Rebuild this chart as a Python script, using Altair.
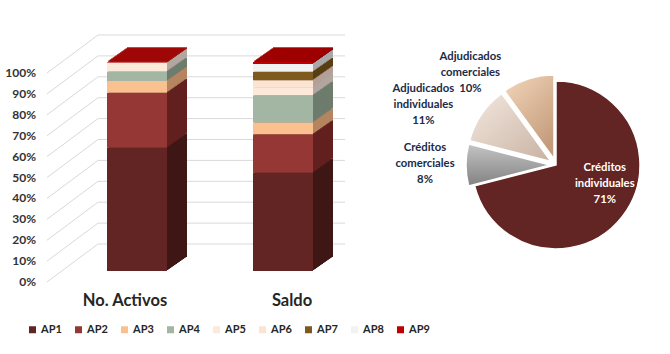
import altair as alt
import pandas as pd

# ---------------- data ----------------
categories = ["No. Activos", "Saldo"]
series = ["AP1", "AP2", "AP3", "AP4", "AP5", "AP6", "AP7", "AP8", "AP9"]
no_activos = [59.0, 26.3, 5.6, 4.5, 4.1, 0.1, 0.1, 0.1, 0.2]
saldo = [47.0, 18.4, 5.6, 13.1, 3.6, 3.6, 4.0, 3.7, 1.0]
y_ticks = [0, 10, 20, 30, 40, 50, 60, 70, 80, 90, 100]

pie_names = ["Créditos individuales", "Créditos comerciales",
             "Adjudicados individuales", "Adjudicados comerciales"]
pie_values = [71, 8, 11, 10]

# ---------------- styles ----------------
front_colors = ["#632523", "#953735", "#FAC090", "#A3B5A3", "#FDE9D9",
                "#FCE4D2", "#7F5A1F", "#F2F2F2", "#C00000"]
side_colors = ["#3F1715", "#62201F", "#B58560", "#6E7C6E", "#B3A69E",
               "#B3A098", "#583E12", "#A8A8A8", "#8A0000"]


def grad(c1, c2, x2=0, y2=1):
    return {"gradient": "linear", "x1": 0, "y1": 0, "x2": x2, "y2": y2,
            "stops": [{"offset": 0, "color": c1}, {"offset": 1, "color": c2}]}


pie_fills = [
    "#632523",
    grad("#C4C4C4", "#828282"),
    grad("#F4E8DF", "#C7B2A3", 1, 1),
    grad("#F3D6BA", "#C49C7C", 0.6, 1),
]
FONT = "Lato"
TXT = "#262626"
NAVY = "#1B2A47"

rows = []
for cat, vals in zip(categories, [no_activos, saldo]):
    for i, (s, v) in enumerate(zip(series, vals)):
        rows.append({"cat": cat, "ap": s, "value": v, "idx": i, "side": side_colors[i]})
bar_df = pd.DataFrame(rows)
grid_df = pd.DataFrame({"t": y_ticks})
cat_df = pd.DataFrame({"cat": categories})
pie_df = pd.DataFrame({
    "name": pie_names,
    "value": pie_values,
    "idx": list(range(len(pie_names))),
    "label": [n.replace(" ", "\n") + "\n" + f"{v}%" for n, v in zip(pie_names, pie_values)],
})

W, H = 326, 209
yscale = alt.Scale(domain=[0, 100])
xscale = alt.Scale(domain=categories, paddingInner=0, paddingOuter=0.1164)

# gridlines: back wall and floor diagonals
back_grid = alt.Chart(grid_df).mark_rule(color="#D9D9D9", strokeWidth=1, yOffset=-27).encode(
    y=alt.Y("t:Q", scale=yscale, axis=None),
    x=alt.value(51), x2=alt.value(298))
floor_grid = alt.Chart(grid_df).mark_rule(color="#D9D9D9", strokeWidth=1, yOffset=11, y2Offset=-27).encode(
    y=alt.Y("t:Q", scale=yscale, axis=None), y2="t:Q",
    x=alt.value(0), x2=alt.value(51))
y_labels = alt.Chart(grid_df).transform_calculate(lab="datum.t + '%'").mark_text(
    align="right", baseline="middle", dy=11, font=FONT, fontSize=12, fontWeight="bold",
    color="#333333").encode(
    y=alt.Y("t:Q", scale=yscale, axis=None), x=alt.value(-11), text="lab:N")

layers = [back_grid, floor_grid, y_labels]

for cat, shift in zip(categories, [-12, 9]):
    layers.append(alt.Chart(cat_df).transform_filter(alt.datum.cat == cat).mark_text(
        align="center", baseline="middle", dx=shift, font=FONT, fontSize=16.5, fontWeight="bold",
        color=TXT).encode(
        x=alt.X("cat:N", scale=xscale, axis=None), y=alt.value(H + 30), text="cat:N"))

N = 14
for k in range(N, 0, -1):
    dx, dy = 20.0 * k / N, -14.0 * k / N
    layers.append(alt.Chart(bar_df).mark_bar(size=60, xOffset=dx, x2Offset=dx, yOffset=dy, y2Offset=dy).encode(
        x=alt.X("cat:N", scale=xscale, axis=None),
        y=alt.Y("value:Q", stack="zero", scale=yscale, axis=None),
        color=alt.Color("side:N", scale=None),
        order=alt.Order("idx:Q")))
for k in range(N, 0, -1):
    dx, dy = 20.0 * k / N, -14.0 * k / N
    layers.append(alt.Chart(bar_df).transform_aggregate(total="sum(value)", groupby=["cat"]).mark_tick(
        size=60, thickness=1.8, color="#A00000", orient="horizontal", xOffset=dx, yOffset=dy).encode(
        x=alt.X("cat:N", scale=xscale, axis=None),
        y=alt.Y("total:Q", scale=yscale, axis=None)))

front = alt.Chart(bar_df).mark_bar(size=60).encode(
    x=alt.X("cat:N", scale=xscale, axis=None),
    y=alt.Y("value:Q", stack="zero", scale=yscale, axis=None),
    color=alt.Color("ap:N", scale=alt.Scale(domain=series, range=front_colors),
                    legend=alt.Legend(orient="none", legendX=-20, legendY=262, direction="horizontal",
                                      columns=9, title=None, symbolType="square", symbolSize=49,
                                      symbolStrokeWidth=0, labelFont=FONT, labelFontSize=11,
                                      labelFontWeight="bold", labelColor=TXT, columnPadding=11,
                                      labelOffset=3)),
    order=alt.Order("idx:Q"))
layers.append(front)

# pie
CX, CY = 509, 103
explode = [(0, 0), (-6, 0), (-5, -3.5), (-2, -6)]
for name, fill, (ex, ey) in zip(pie_names, pie_fills, explode):
    layers.append(alt.Chart(pie_df).mark_arc(outerRadius=84, stroke="white", strokeWidth=1.5,
                                             xOffset=ex, yOffset=ey).encode(
        theta=alt.Theta("value:Q", stack=True),
        order=alt.Order("idx:Q"),
        color=alt.value(fill),
        opacity=alt.condition(alt.datum.name == name, alt.value(1), alt.value(0)),
        x=alt.value(CX), y=alt.value(CY)))

label_style = [
    (63, -1, -36, "white"),
    (131, 0, -17, NAVY),
    (141, -16, 3, NAVY),
    (125, -47, 11, NAVY),
]
for name, (r, dx, dy, col) in zip(pie_names, label_style):
    layers.append(alt.Chart(pie_df).mark_text(
        radius=r, dx=dx, dy=dy, lineBreak="\n", font=FONT, fontSize=11.3, fontWeight="bold",
        color=col, align="center", baseline="middle", lineHeight=16).encode(
        theta=alt.Theta("value:Q", stack=True),
        order=alt.Order("idx:Q"),
        text=alt.condition(alt.datum.name == name, alt.Text("label:N"), alt.value("")),
        x=alt.value(CX), y=alt.value(CY)))

chart = alt.layer(*layers).properties(
    width=W, height=H,
    autosize=alt.AutoSizeParams(type="none"),
    padding={"left": 47, "top": 62, "right": 670 - 47 - W, "bottom": 354 - 62 - H},
    background="white",
).configure_view(stroke=None)

chart.save("out.html", embed_options={"renderer": "svg", "actions": False})
